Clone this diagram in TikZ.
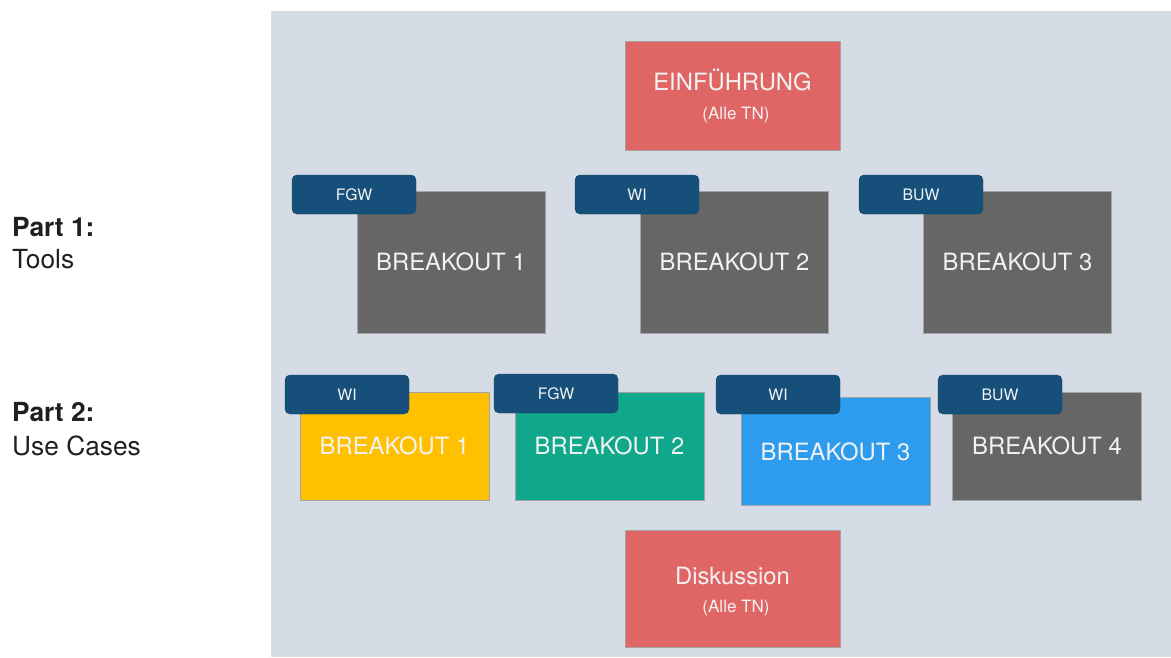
\documentclass[tikz,border=0pt]{standalone}
\usepackage{fontspec}
\setmainfont{TeX Gyre Heros}
\usetikzlibrary{calc}
\definecolor{panel}{HTML}{D5DCE6}
\definecolor{redbox}{HTML}{E06666}
\definecolor{graybox}{HTML}{666666}
\definecolor{navy}{HTML}{16507A}
\definecolor{yellowbox}{HTML}{FFC000}
\definecolor{greenbox}{HTML}{10A88A}
\definecolor{bluebox}{HTML}{2D9CEE}
\definecolor{boxline}{HTML}{A3A3A3}
\definecolor{lighttext}{HTML}{F2F2F2}
\begin{document}
\begin{tikzpicture}[x=1pt,y=-1pt,
  box/.style={draw=boxline, line width=0.8pt, inner sep=0pt, text=lighttext,
    font=\fontsize{23.8}{28}\selectfont},
  rowone/.style={box, fill=graybox, minimum width=188pt, minimum height=142pt},
  rowtwo/.style={box, minimum width=189pt, minimum height=108pt},
  alltn/.style={box, fill=redbox, minimum width=215pt},
  tag/.style={fill=navy, draw=navy!85!black, line width=0.4pt, rounded corners=5pt,
    minimum width=124pt, minimum height=39pt, inner sep=0pt, text=lighttext,
    font=\fontsize{15.8}{18}\selectfont},
  bigtext/.style={anchor=base, text=lighttext, font=\fontsize{23.8}{28}\selectfont, inner sep=0pt},
  smalltext/.style={anchor=base, text=lighttext, font=\fontsize{17}{20}\selectfont, inner sep=0pt},
  side/.style={anchor=base west, text=black!88, inner sep=0pt, font=\fontsize{26.3}{30}\selectfont}]
\useasboundingbox (0,0) rectangle (1171,657);
\fill[panel] (271,11) rectangle (1171,657);

% Introduction
\node[alltn, minimum height=109pt] (intro) at (732.5,95.5) {};
\node[bigtext] (introtitle) at (732.5,90) {EINFÜHRUNG};
\node[smalltext] (introsub) at (736,119) {(Alle TN)};

% Part 1
\node[rowone] (a1) at (451,262) {BREAKOUT 1};
\node[rowone] (a2) at (734.5,262) {BREAKOUT 2};
\node[rowone] (a3) at (1017.5,262) {BREAKOUT 3};
\node[tag] (ta1) at (354,194.5) {FGW};
\node[tag] (ta2) at (637,194.5) {WI};
\node[tag] (ta3) at (921,194.5) {BUW};

% Part 2
\node[rowtwo, fill=yellowbox] (b1) at (394.5,446) {BREAKOUT 1};
\node[rowtwo, fill=greenbox] (b2) at (609.5,446) {BREAKOUT 2};
\node[rowtwo, fill=bluebox] (b3) at (835.5,451.5) {BREAKOUT 3};
\node[rowtwo, fill=graybox] (b4) at (1047,446) {BREAKOUT 4};
\node[tag] (tb1) at (347,394.5) {WI};
\node[tag] (tb2) at (556,393.5) {FGW};
\node[tag] (tb3) at (778,394.5) {WI};
\node[tag] (tb4) at (1000,394.5) {BUW};

% Discussion
\node[alltn, minimum height=117pt] (disc) at (732.5,588.5) {};
\node[bigtext] (disctitle) at (732.5,584) {Diskussion};
\node[smalltext] (discsub) at (736,612) {(Alle TN)};

% Side labels
\node[side, font=\fontsize{26.3}{30}\selectfont\bfseries] (p1) at (12,236) {Part 1:};
\node[side] (p1b) at (12,268) {Tools};
\node[side, font=\fontsize{26.3}{30}\selectfont\bfseries] (p2) at (12,421) {Part 2:};
\node[side] (p2b) at (12,455) {Use Cases};
\end{tikzpicture}
\end{document}
